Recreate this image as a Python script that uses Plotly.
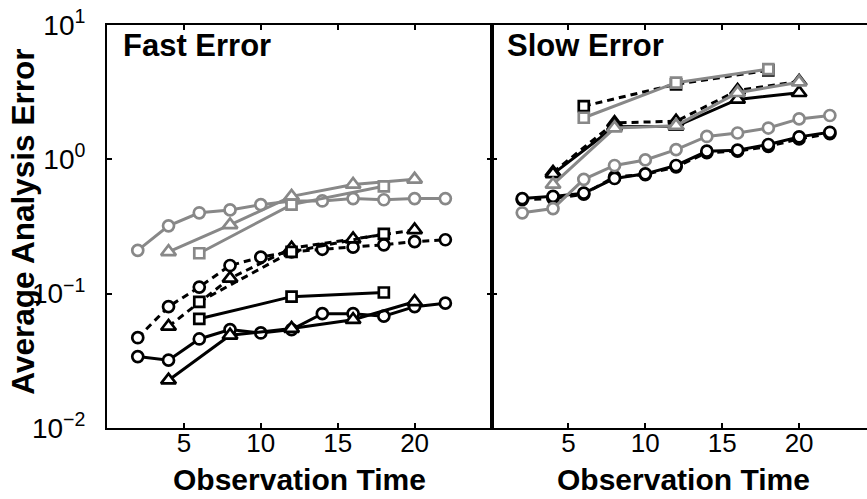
import plotly.graph_objects as go

# ---------------- data ----------------
x_circ = [2, 4, 6, 8, 10, 12, 14, 16, 18, 20, 22]
x_tri = [4, 8, 12, 16, 20]
x_sq = [6, 12, 18]

# Fast Error panel
fast_gray_circ = [0.21, 0.32, 0.40, 0.42, 0.46, 0.49, 0.49, 0.51, 0.50, 0.51, 0.51]
fast_gray_tri = [0.205, 0.325, 0.53, 0.65, 0.71]
fast_gray_sq = [0.20, 0.46, 0.63]
fast_bdash_circ = [0.047, 0.080, 0.112, 0.162, 0.187, 0.205, 0.214, 0.222, 0.231, 0.244, 0.252]
fast_bdash_tri = [0.057, 0.130, 0.218, 0.255, 0.298]
fast_bdash_sq = [0.087, 0.205, 0.279]
fast_bsolid_circ = [0.034, 0.032, 0.046, 0.054, 0.051, 0.054, 0.071, 0.071, 0.068, 0.080, 0.085]
fast_bsolid_tri = [0.0227, 0.049, 0.055, 0.064, 0.087]
fast_bsolid_sq = [0.065, 0.095, 0.102]

# Slow Error panel
slow_gray_circ = [0.40, 0.43, 0.71, 0.90, 0.99, 1.18, 1.48, 1.57, 1.71, 2.00, 2.12]
slow_gray_tri = [0.65, 1.71, 1.78, 3.13, 3.75]
slow_gray_sq = [2.04, 3.72, 4.70]
slow_bdash_circ = [0.50, 0.51, 0.55, 0.74, 0.77, 0.88, 1.12, 1.15, 1.25, 1.42, 1.55]
slow_bdash_tri = [0.80, 1.87, 1.92, 3.25, 3.80]
slow_bdash_sq = [2.49, 3.62, 4.60]
slow_bsolid_circ = [0.51, 0.53, 0.56, 0.72, 0.78, 0.90, 1.15, 1.17, 1.29, 1.47, 1.59]
slow_bsolid_tri = [0.78, 1.75, 1.76, 2.79, 3.13]

x_tickvals = [5, 10, 15, 20]
x_ticktext = ["5", "10", "15", "20"]
y_tickvals = [0.01, 0.1, 1, 10]
y_ticktext = ["10<sup>\u22122</sup>", "10<sup>\u22121</sup>", "10<sup>0</sup>", "10<sup>1</sup>"]

panel_titles = ["Fast Error", "Slow Error"]
x_title = "Observation Time"
y_title = "Average Analysis Error"

# ---------------- styling ----------------
GRAY = "#888888"
BLACK = "#000000"
FONT = "Liberation Sans"
SYM = {"c": "circle", "t": "triangle-up", "s": "square"}
MSIZE = {"c": 11, "t": 13, "s": 10}


def add_series(fig, xs, ys, color, shape, dashed, xa, ya):
    fig.add_trace(go.Scatter(
        x=xs, y=ys, mode="lines+markers",
        xaxis=xa, yaxis=ya, showlegend=False, hoverinfo="skip",
        line=dict(color=color, width=3, dash="7px,5px" if dashed else "solid"),
        marker=dict(symbol=SYM[shape], size=MSIZE[shape], color="white",
                    line=dict(color=color, width=2.7)),
    ))


fig = go.Figure()

panels = [
    ("x", "y", [
        (x_circ, fast_bsolid_circ, BLACK, "c", False),
        (x_tri, fast_bsolid_tri, BLACK, "t", False),
        (x_sq, fast_bsolid_sq, BLACK, "s", False),
        (x_circ, fast_bdash_circ, BLACK, "c", True),
        (x_tri, fast_bdash_tri, BLACK, "t", True),
        (x_sq, fast_bdash_sq, BLACK, "s", True),
        (x_circ, fast_gray_circ, GRAY, "c", False),
        (x_tri, fast_gray_tri, GRAY, "t", False),
        (x_sq, fast_gray_sq, GRAY, "s", False),
    ]),
    ("x2", "y2", [
        (x_sq, slow_bdash_sq, BLACK, "s", True),
        (x_tri, slow_bdash_tri, BLACK, "t", True),
        (x_tri, slow_bsolid_tri, BLACK, "t", False),
        (x_circ, slow_bdash_circ, BLACK, "c", True),
        (x_circ, slow_bsolid_circ, BLACK, "c", False),
        (x_circ, slow_gray_circ, GRAY, "c", False),
        (x_tri, slow_gray_tri, GRAY, "t", False),
        (x_sq, slow_gray_sq, GRAY, "s", False),
    ]),
]

for xa, ya, series in panels:
    for xs, ys, col, shp, dsh in series:
        add_series(fig, xs, ys, col, shp, dsh, xa, ya)

FIG_W, FIG_H = 867, 499
L, T, B = 107, 25, 71
W = FIG_W - L
panel_px = 384.5
split = panel_px / W
x2_max = 25 * (FIG_W - L - panel_px) / panel_px

xtickfont = dict(family=FONT, size=26, color="black")
ytickfont = dict(family=FONT, size=28, color="black")
common_x = dict(tickmode="array", tickvals=x_tickvals, ticktext=x_ticktext,
                ticks="inside", ticklen=5, tickwidth=1.5, tickcolor="black",
                showline=True, linecolor="black", linewidth=2, mirror="ticks",
                showgrid=False, zeroline=False, tickfont=xtickfont,
                ticklabelstandoff=-9)
common_y = dict(type="log", range=[-2, 1], tickmode="array",
                tickvals=y_tickvals, ticktext=y_ticktext,
                ticks="inside", ticklen=5, tickwidth=1.5, tickcolor="black",
                showline=True, linecolor="black", linewidth=2,
                showgrid=False, zeroline=False, tickfont=ytickfont,
                ticklabeloverflow="allow")

fig.update_layout(
    width=FIG_W, height=FIG_H,
    margin=dict(l=L, r=0, t=T, b=B, autoexpand=False),
    paper_bgcolor="white", plot_bgcolor="white",
    xaxis=dict(domain=[0, split], anchor="y", range=[0, 25], **common_x),
    xaxis2=dict(domain=[split, 1], anchor="y2", range=[0, x2_max], **common_x),
    yaxis=dict(anchor="x", mirror="ticks", ticklabelstandoff=14, **common_y),
    yaxis2=dict(anchor="x2", mirror=False, showticklabels=False, **common_y),
)

annots = []
for i, t in enumerate(panel_titles):
    xr = "x domain" if i == 0 else "x2 domain"
    annots.append(dict(text=t, xref=xr, yref="y domain", x=0.036, y=0.948,
                       xanchor="left", yanchor="middle", showarrow=False,
                       font=dict(family=FONT, size=31, color="black", weight="bold")))
for xr in ["x", "x2"]:
    annots.append(dict(text=x_title, xref=xr, yref="y domain", x=12.5, y=-0.128,
                       xanchor="center", yanchor="middle", showarrow=False,
                       font=dict(family=FONT, size=30, color="black", weight="bold")))
annots.append(dict(text=y_title, xref="paper", yref="y domain", x=(23 - L) / W, y=0.512,
                   xanchor="center", yanchor="middle", textangle=-90, showarrow=False,
                   font=dict(family=FONT, size=31.5, color="black", weight="bold")))
fig.update_layout(annotations=annots)

fig.write_html("out.html", config={"displayModeBar": False},
               post_script="document.body.style.margin='0px';")
